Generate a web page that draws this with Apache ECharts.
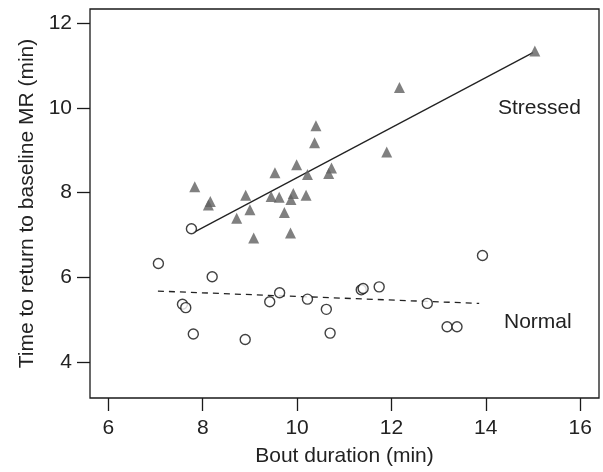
<!DOCTYPE html>
<html>
<head>
<meta charset="utf-8">
<script src="https://cdn.jsdelivr.net/npm/echarts@6/dist/echarts.min.js"></script>
<style>
  html, body { margin: 0; padding: 0; background: #fff; }
  #chart { width: 603px; height: 472px; }
</style>
</head>
<body>
<div id="chart"></div>
<script>
// values
var stressedX = [7.83, 8.16, 8.12, 8.72, 8.91, 9.0, 9.08, 9.53, 9.45, 9.62, 9.73, 9.87, 9.86, 9.92, 9.99, 10.19, 10.22, 10.37, 10.4, 10.67, 10.73, 11.9, 12.17, 15.04];
var stressedY = [8.14, 7.79, 7.71, 7.40, 7.94, 7.60, 6.93, 8.47, 7.91, 7.89, 7.53, 7.84, 7.05, 7.98, 8.66, 7.94, 8.43, 9.18, 9.58, 8.45, 8.58, 8.96, 10.48, 11.34];
var normalX = [7.06, 7.57, 7.64, 7.76, 7.80, 8.20, 8.90, 9.42, 9.63, 10.22, 10.62, 10.70, 11.36, 11.40, 11.74, 12.76, 13.18, 13.39, 13.93];
var normalY = [6.33, 5.37, 5.29, 7.15, 4.67, 6.02, 4.54, 5.43, 5.64, 5.49, 5.25, 4.69, 5.71, 5.74, 5.78, 5.39, 4.84, 4.84, 6.52];
var stressedFitX = [7.8, 15.0];
var stressedFitY = [7.06, 11.30];
var normalFitX = [7.05, 13.86];
var normalFitY = [5.68, 5.39];
var xTicks = [6, 8, 10, 12, 14, 16];
var yTicks = [4, 6, 8, 10, 12];

function pairs(xs, ys) {
  return xs.map(function (x, i) { return [x, ys[i]]; });
}

var chart = echarts.init(document.getElementById('chart'));
var font = 'Liberation Sans, Arial, sans-serif';

var option = {
  animation: false,
  grid: {
    left: 90, right: 4, top: 9, bottom: 71,
    show: true, borderColor: '#1a1a1a', borderWidth: 1.3, backgroundColor: '#fff'
  },
  xAxis: {
    type: 'value', min: 5.61, max: 16.4,
    name: 'Bout duration (min)', nameLocation: 'middle', nameGap: 48,
    nameTextStyle: { fontSize: 21, color: '#222', fontFamily: font },
    axisLine: { show: false },
    splitLine: { show: false },
    axisTick: { show: true, inside: false, length: 13, customValues: xTicks, lineStyle: { color: '#1a1a1a', width: 1.3 } },
    axisLabel: { customValues: xTicks, margin: 20, fontSize: 21, color: '#222', fontFamily: font }
  },
  yAxis: {
    type: 'value', min: 3.16, max: 12.33,
    name: 'Time to return to baseline MR (min)', nameLocation: 'middle', nameGap: 52,
    nameTextStyle: { fontSize: 21, color: '#222', fontFamily: font },
    axisLine: { show: false },
    splitLine: { show: false },
    axisTick: { show: true, inside: false, length: 13, customValues: yTicks, lineStyle: { color: '#1a1a1a', width: 1.3 } },
    axisLabel: { customValues: yTicks, margin: 18, fontSize: 21, color: '#222', fontFamily: font }
  },
  series: [
    {
      name: 'Stressed fit', type: 'line', data: pairs(stressedFitX, stressedFitY),
      symbol: 'none', lineStyle: { color: '#222', width: 1.3 }, z: 1
    },
    {
      name: 'Normal fit', type: 'line', data: pairs(normalFitX, normalFitY),
      symbol: 'none', lineStyle: { color: '#222', width: 1.3, type: [6, 5] }, z: 1
    },
    {
      name: 'Stressed', type: 'scatter', data: pairs(stressedX, stressedY),
      symbol: 'triangle', symbolSize: 11,
      itemStyle: { color: '#606060' }, z: 2
    },
    {
      name: 'Normal', type: 'scatter', data: pairs(normalX, normalY),
      symbol: 'circle', symbolSize: 10,
      itemStyle: { color: '#fff', borderColor: '#111', borderWidth: 1.4 }, z: 3
    }
  ],
  graphic: [
    { type: 'text', left: 498, top: 98, style: { text: 'Stressed', fontSize: 21, fill: '#222', fontFamily: font } },
    { type: 'text', left: 504, top: 312, style: { text: 'Normal', fontSize: 21, fill: '#222', fontFamily: font } }
  ]
};

chart.setOption(option);
</script>
</body>
</html>
